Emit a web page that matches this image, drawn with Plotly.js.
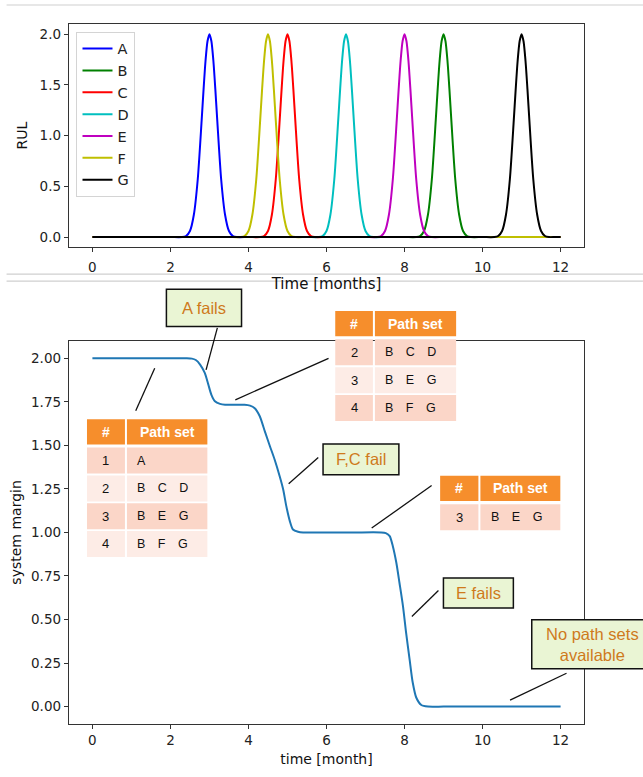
<!DOCTYPE html>
<html>
<head>
<meta charset="utf-8">
<script src="https://cdn.plot.ly/plotly-3.0.1.min.js"></script>
<style>html,body{margin:0;padding:0;background:#fff;}#chart{width:643px;height:777px;}</style>
</head>
<body>
<div id="chart"></div>
<script>
// ---------- DATA ----------
const seriesNames = ['A', 'B', 'C', 'D', 'E', 'F', 'G'];

const tA = [0, 1.0, 2.0, 2.3, 2.4, 2.5, 2.6, 2.7, 2.8, 2.85, 2.9, 2.95, 3.0, 3.05, 3.1, 3.15, 3.2, 3.3, 3.4, 3.5, 3.6, 3.7, 4.0, 6.0, 9.0, 12];
const rulA = [0, 0, 0, 0, 0.01, 0.06, 0.22, 0.57, 1.15, 1.46, 1.74, 1.93, 2.0, 1.93, 1.74, 1.46, 1.15, 0.57, 0.22, 0.06, 0.01, 0, 0, 0, 0, 0];

const tB = [0, 3.0, 6.0, 8.0, 8.3, 8.4, 8.5, 8.6, 8.7, 8.8, 8.85, 8.9, 8.95, 9.0, 9.05, 9.1, 9.15, 9.2, 9.3, 9.4, 9.5, 9.6, 9.7, 10.0, 11.0, 12];
const rulB = [0, 0, 0, 0, 0, 0.01, 0.06, 0.22, 0.57, 1.15, 1.46, 1.74, 1.93, 2.0, 1.93, 1.74, 1.46, 1.15, 0.57, 0.22, 0.06, 0.01, 0, 0, 0, 0];

const tC = [0, 2.0, 4.0, 4.3, 4.4, 4.5, 4.6, 4.7, 4.8, 4.85, 4.9, 4.95, 5.0, 5.05, 5.1, 5.15, 5.2, 5.3, 5.4, 5.5, 5.6, 5.7, 6.0, 8.0, 10.0, 12];
const rulC = [0, 0, 0, 0, 0.01, 0.06, 0.22, 0.57, 1.15, 1.46, 1.74, 1.93, 2.0, 1.93, 1.74, 1.46, 1.15, 0.57, 0.22, 0.06, 0.01, 0, 0, 0, 0, 0];

const tD = [0, 2.5, 5.5, 5.8, 5.9, 6.0, 6.1, 6.2, 6.3, 6.35, 6.4, 6.45, 6.5, 6.55, 6.6, 6.65, 6.7, 6.8, 6.9, 7.0, 7.1, 7.2, 7.5, 9.0, 10.5, 12];
const rulD = [0, 0, 0, 0, 0.01, 0.06, 0.22, 0.57, 1.15, 1.46, 1.74, 1.93, 2.0, 1.93, 1.74, 1.46, 1.15, 0.57, 0.22, 0.06, 0.01, 0, 0, 0, 0, 0];

const tE = [0, 3.0, 6.0, 7.0, 7.3, 7.4, 7.5, 7.6, 7.7, 7.8, 7.85, 7.9, 7.95, 8.0, 8.05, 8.1, 8.15, 8.2, 8.3, 8.4, 8.5, 8.6, 8.7, 9.0, 10.5, 12];
const rulE = [0, 0, 0, 0, 0, 0.01, 0.06, 0.22, 0.57, 1.15, 1.46, 1.74, 1.93, 2.0, 1.93, 1.74, 1.46, 1.15, 0.57, 0.22, 0.06, 0.01, 0, 0, 0, 0];

const tF = [0, 1.5, 3.0, 3.5, 3.8, 3.9, 4.0, 4.1, 4.2, 4.3, 4.35, 4.4, 4.45, 4.5, 4.55, 4.6, 4.65, 4.7, 4.8, 4.9, 5.0, 5.1, 5.2, 5.5, 8.0, 12];
const rulF = [0, 0, 0, 0, 0, 0.01, 0.06, 0.22, 0.57, 1.15, 1.46, 1.74, 1.93, 2.0, 1.93, 1.74, 1.46, 1.15, 0.57, 0.22, 0.06, 0.01, 0, 0, 0, 0];

const tG = [0, 3.0, 6.0, 9.0, 10.0, 10.3, 10.4, 10.5, 10.6, 10.7, 10.8, 10.85, 10.9, 10.95, 11.0, 11.05, 11.1, 11.15, 11.2, 11.3, 11.4, 11.5, 11.6, 11.7, 11.85, 12];
const rulG = [0, 0, 0, 0, 0, 0, 0.01, 0.06, 0.22, 0.57, 1.15, 1.46, 1.74, 1.93, 2.0, 1.93, 1.74, 1.46, 1.15, 0.57, 0.22, 0.06, 0.01, 0, 0, 0];

const tMargin = [0, 1.0, 2.0, 2.4, 2.55, 2.65, 2.76, 2.88, 2.97, 3.05, 3.14, 3.27, 3.4, 3.65, 3.9, 4.04, 4.16, 4.29, 4.42, 4.55, 4.67, 4.8, 4.89, 4.97, 5.06, 5.14, 5.27, 5.4, 6.0, 6.7, 7.4, 7.52, 7.62, 7.70, 7.79, 7.87, 7.96, 8.04, 8.13, 8.21, 8.30, 8.43, 8.6, 9.0, 10.0, 11.0, 12];
const systemMargin = [2.0, 2.0, 2.0, 2.0, 1.998, 1.99, 1.964, 1.916, 1.85, 1.79, 1.753, 1.738, 1.733, 1.733, 1.733, 1.728, 1.713, 1.667, 1.58, 1.495, 1.419, 1.323, 1.247, 1.151, 1.065, 1.017, 1.004, 1.0, 1.0, 1.0, 1.0, 0.996, 0.979, 0.921, 0.826, 0.711, 0.577, 0.424, 0.271, 0.138, 0.052, 0.009, 0, 0, 0, 0, 0];

const xTicks = [0, 2, 4, 6, 8, 10, 12];
const rulTicks = [0, 0.5, 1.0, 1.5, 2.0];
const marginTicks = [0, 0.25, 0.5, 0.75, 1.0, 1.25, 1.5, 1.75, 2.0];

const tableHeader = ['#', 'Path set'];
const table1Ids = ['1', '2', '3', '4'];
const table1Sets = ['A', 'B C D', 'B E G', 'B F G'];
const table2Ids = ['2', '3', '4'];
const table2Sets = ['B C D', 'B E G', 'B F G'];
const table3Ids = ['3'];
const table3Sets = ['B E G'];

const calloutTexts = ['A fails', 'F,C fail', 'E fails', 'No path sets<br>available'];

// ---------- LAYOUT HELPERS ----------
const WIDTH = 643, HEIGHT = 777;
const L = 68.5, R = 584, T = 24, B = 724.3;
const PW = R - L, PH = B - T;
const px = x => (x - L) / PW;
const py = y => 1 - (y - T) / PH;

const colors = {A: '#0000ff', B: '#008000', C: '#ff0000', D: '#00bfbf', E: '#bf00bf', F: '#bfbf00', G: '#000000'};
const tsMap = {A: [tA, rulA], B: [tB, rulB], C: [tC, rulC], D: [tD, rulD], E: [tE, rulE], F: [tF, rulF], G: [tG, rulG]};

const traces = seriesNames.map(n => ({
  x: tsMap[n][0], y: tsMap[n][1], name: n, type: 'scatter', mode: 'lines',
  line: {color: colors[n], width: 2, shape: 'spline', smoothing: 0.7},
  xaxis: 'x', yaxis: 'y'
}));
traces.push({
  x: tMargin, y: systemMargin, name: 'system margin', type: 'scatter', mode: 'lines',
  line: {color: '#1f77b4', width: 2, shape: 'spline', smoothing: 0.7},
  xaxis: 'x2', yaxis: 'y2', showlegend: false
});

const shapes = [];
const annotations = [];
const hdrColor = '#f68e2c', rowDark = '#fbd6c8', rowLight = '#fdece6';
const tblFont = 'Liberation Sans, Arial, sans-serif';

function rectPx(x0, y0, x1, y1, fill, lineColor, lineWidth) {
  shapes.push({type: 'rect', xref: 'paper', yref: 'paper', layer: 'above',
    x0: px(x0), x1: px(x1), y0: py(y1), y1: py(y0),
    fillcolor: fill, line: {color: lineColor || fill, width: lineWidth || 0}});
}
function linePx(x0, y0, x1, y1, color, width) {
  shapes.push({type: 'line', xref: 'paper', yref: 'paper', layer: 'above',
    x0: px(x0), x1: px(x1), y0: py(y0), y1: py(y1), line: {color: color, width: width}});
}
function textPx(x, y, text, opts) {
  annotations.push(Object.assign({xref: 'paper', yref: 'paper', x: px(x), y: py(y), text: text,
    showarrow: false, xanchor: 'center', yanchor: 'middle'}, opts));
}

function drawTable(cols, headerTop, ids, sets) {
  // cols: [left, col1Right, col2Left, right]
  const hh = 25.3, gap = 3.2, rh = 26, pitch = 27.8;
  rectPx(cols[0], headerTop, cols[1], headerTop + hh, hdrColor);
  rectPx(cols[2], headerTop, cols[3], headerTop + hh, hdrColor);
  textPx((cols[0] + cols[1]) / 2, headerTop + hh / 2, '<b>' + tableHeader[0] + '</b>', {font: {family: tblFont, size: 14, color: '#ffffff'}});
  textPx((cols[2] + cols[3]) / 2, headerTop + hh / 2, '<b>' + tableHeader[1] + '</b>', {font: {family: tblFont, size: 14, color: '#ffffff'}});
  ids.forEach((id, i) => {
    const top = headerTop + hh + gap + i * pitch;
    const fill = i % 2 === 0 ? rowDark : rowLight;
    rectPx(cols[0], top, cols[1], top + rh, fill);
    rectPx(cols[2], top, cols[3], top + rh, fill);
    textPx((cols[0] + cols[1]) / 2, top + rh / 2, id, {font: {family: tblFont, size: 13, color: '#111111'}});
    textPx(cols[2] + 8.5, top + rh / 2, sets[i].split(' ').join('\u2003'), {xanchor: 'left', font: {family: tblFont, size: 12.5, color: '#111111'}});
  });
}

function drawCallout(x0, y0, x1, y1, text, cx) {
  rectPx(x0, y0, x1, y1, '#eaf5d4', '#111111', 1.5);
  textPx(cx !== undefined ? cx : (x0 + x1) / 2, (y0 + y1) / 2, text, {font: {family: tblFont, size: 16.5, color: '#cf7a1c'}});
}

// connector lines
linePx(135.3, 411, 154.3, 368.3, '#111', 1.3);
linePx(217, 328, 205.7, 370, '#111', 1.3);
linePx(235, 400, 328.3, 358.5, '#111', 1.3);
linePx(318, 457.7, 288.4, 484, '#111', 1.3);
linePx(371.5, 528.3, 431.5, 485.7, '#111', 1.3);
linePx(438.3, 590.7, 411.7, 616.7, '#111', 1.3);
linePx(566.5, 673.5, 510, 700.5, '#111', 1.3);

drawTable([86.5, 124.5, 126.5, 207], 419.3, table1Ids, table1Sets);
drawTable([335, 372.7, 374.7, 456], 311, table2Ids, table2Sets);
drawTable([440, 478.3, 480.3, 560.3], 476, table3Ids, table3Sets);

drawCallout(166, 289.3, 241.2, 326.7, calloutTexts[0]);
drawCallout(322.8, 444.3, 398.7, 475, calloutTexts[1]);
drawCallout(443.3, 578.3, 513.3, 608.3, calloutTexts[2]);
drawCallout(531.7, 620, 660, 669, calloutTexts[3], 592.7);

// light gray page separator lines seen in the reference
[5, 274.3, 281.3].forEach(y => {
  shapes.push({type: 'line', xref: 'paper', yref: 'paper', layer: 'below',
    x0: px(6), x1: px(643), y0: py(y), y1: py(y), line: {color: '#cfcfcf', width: 1.2}});
});

const axFont = {family: 'DejaVu Sans, sans-serif', size: 13.5, color: '#222222'};
const axBase = {
  showline: true, mirror: true, linecolor: '#333333', linewidth: 1.2,
  ticks: 'outside', ticklen: 4, tickwidth: 1, tickcolor: '#333333',
  showgrid: false, zeroline: false, tickfont: axFont, fixedrange: true
};

const layout = {
  width: WIDTH, height: HEIGHT,
  margin: {l: L, r: WIDTH - R, t: T, b: HEIGHT - B, pad: 0},
  paper_bgcolor: '#ffffff', plot_bgcolor: '#ffffff',
  showlegend: true,
  legend: {x: px(76), y: py(31.7), xanchor: 'left', yanchor: 'top',
    bgcolor: 'rgba(255,255,255,0.9)', bordercolor: '#d4d4d4', borderwidth: 1,
    font: {family: 'DejaVu Sans, sans-serif', size: 14.5, color: '#222222'}},
  xaxis: Object.assign({}, axBase, {domain: [0, 1], anchor: 'y', range: [-0.6, 12.6],
    tickmode: 'array', tickvals: xTicks, ticktext: xTicks.map(String), ticklabelstandoff: 3,
    title: {text: 'Time [months]', font: {family: 'DejaVu Sans, sans-serif', size: 15, color: '#111111'}, standoff: 2}}),
  yaxis: Object.assign({}, axBase, {domain: [py(247.3), 1], anchor: 'x', range: [-0.1, 2.1],
    tickmode: 'array', tickvals: rulTicks, ticktext: rulTicks.map(v => v.toFixed(1)),
    title: {text: 'RUL', font: {family: 'DejaVu Sans, sans-serif', size: 14, color: '#111111'}, standoff: 8}}),
  xaxis2: Object.assign({}, axBase, {domain: [0, 1], anchor: 'y2', range: [-0.6, 12.6],
    tickmode: 'array', tickvals: xTicks, ticktext: xTicks.map(String),
    title: {text: 'time [month]', font: {family: 'DejaVu Sans, sans-serif', size: 14, color: '#111111'}, standoff: 6}}),
  yaxis2: Object.assign({}, axBase, {domain: [0, py(341)], anchor: 'x2', range: [-0.1, 2.1],
    tickmode: 'array', tickvals: marginTicks, ticktext: marginTicks.map(v => v.toFixed(2)),
    title: {text: 'system margin', font: {family: 'DejaVu Sans, sans-serif', size: 14, color: '#111111'}, standoff: 6}}),
  shapes: shapes,
  annotations: annotations
};

Plotly.newPlot('chart', traces, layout, {staticPlot: true, displayModeBar: false});
</script>
</body>
</html>
